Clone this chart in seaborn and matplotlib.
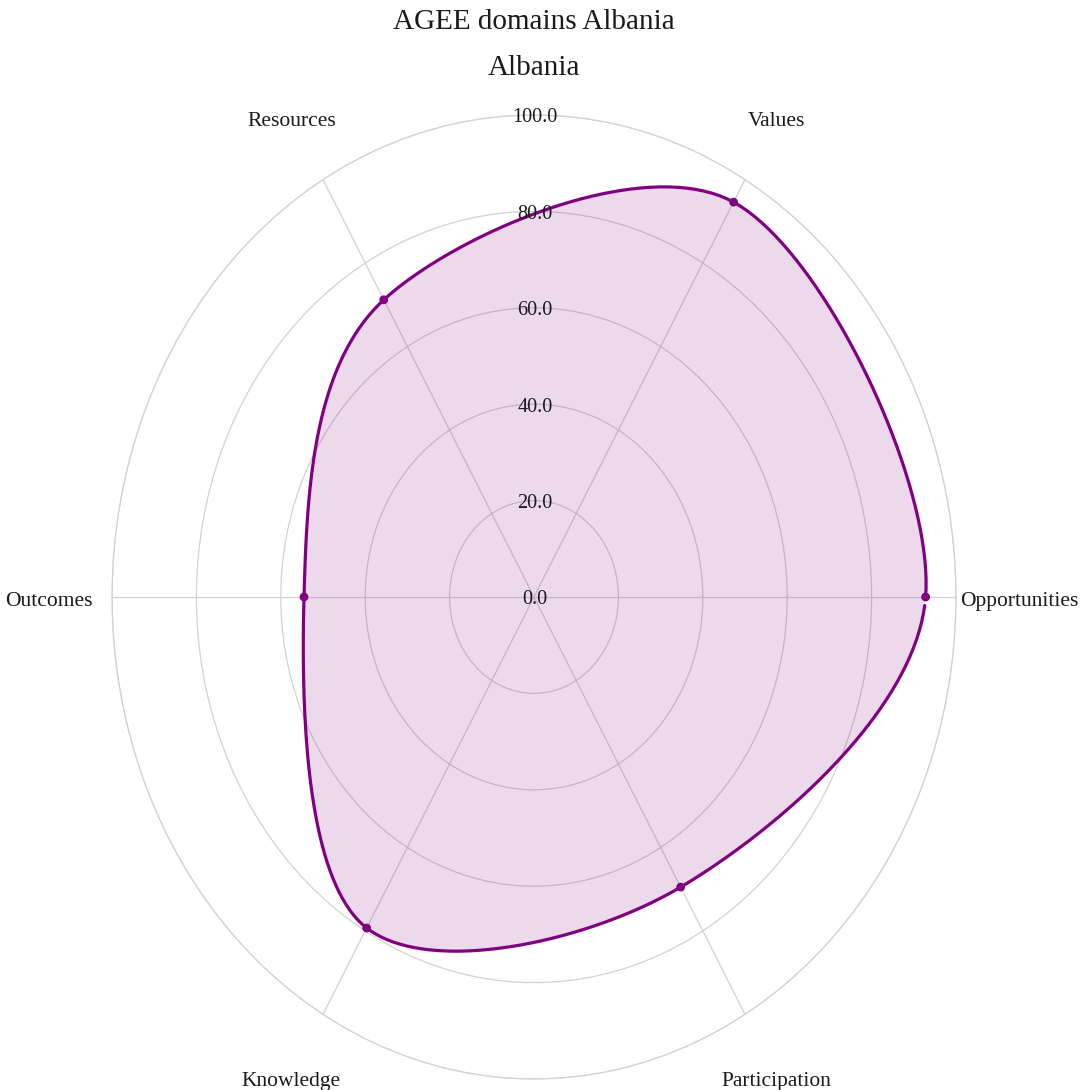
import numpy as np
import pandas as pd
import matplotlib.pyplot as plt
import matplotlib.transforms as mtransforms
import seaborn as sns

# Data
categories = ["Opportunities", "Values", "Resources", "Outcomes", "Knowledge", "Participation"]
angles_deg = [0, 60, 120, 180, 240, 300]
scores = [92.8, 94.6, 71.2, 54.5, 79.3, 69.5]
ring_values = [0, 20, 40, 60, 80, 100]

title_main = "AGEE domains Albania"
title_sub = "Albania"

sns.set_theme(style="white")
plt.rcParams["font.family"] = ["Liberation Serif", "DejaVu Serif"]

W, H = 1081, 1090
fig = plt.figure(figsize=(W / 100, H / 100), dpi=100)
# polar area is stretched into an ellipse (wider scale vertically)
ax_w, ax_h = 844, 964
ax = fig.add_axes([112 / W, 11 / H, ax_w / W, ax_h / H], projection="polar")
ax.set_aspect("auto")


def smooth_closed(theta, r, a, b, n=40):
    # closed Catmull-Rom spline, computed in screen-like space
    x = np.asarray(r) * np.cos(theta) * a
    y = np.asarray(r) * np.sin(theta) * b
    pts = np.column_stack([x, y])
    k = len(pts)
    t = np.linspace(0, 1, n, endpoint=False)[:, None]
    segs = []
    for i in range(k):
        p0, p1, p2, p3 = pts[(i - 1) % k], pts[i], pts[(i + 1) % k], pts[(i + 2) % k]
        segs.append(0.5 * (2 * p1 + (-p0 + p2) * t
                           + (2 * p0 - 5 * p1 + 4 * p2 - p3) * t ** 2
                           + (-p0 + 3 * p1 - 3 * p2 + p3) * t ** 3))
    out = np.vstack(segs + [pts[:1]])
    xs, ys = out[:, 0] / a, out[:, 1] / b
    return np.arctan2(ys, xs), np.hypot(xs, ys)


theta = np.deg2rad(angles_deg)
th_s, r_s = smooth_closed(theta, scores, ax_w, ax_h)
curve = pd.DataFrame({"theta": th_s, "r": r_s})
points = pd.DataFrame({"theta": theta, "r": scores})

purple = "#800080"
ax.fill(curve["theta"], curve["r"], color=purple, alpha=0.15, lw=0, zorder=3)
sns.lineplot(data=curve, x="theta", y="r", sort=False, ax=ax, color=purple,
             lw=2.3, zorder=4)
sns.scatterplot(data=points, x="theta", y="r", ax=ax, color=purple, s=40,
                edgecolor="none", zorder=5)

ax.set_xlabel("")
ax.set_ylabel("")
ax.set_ylim(0, 100)
ax.set_thetagrids(angles_deg, labels=[""] * len(angles_deg))
ax.set_rgrids(ring_values[1:], labels=[""] * (len(ring_values) - 1))
ax.grid(True, color="#d2d2d2", lw=0.9)
ax.spines["polar"].set_color("#d2d2d2")
ax.spines["polar"].set_linewidth(0.9)
ax.set_facecolor("white")

text_color = "#1a1a1a"
tick_tr = ax.transData + mtransforms.ScaledTranslation(0.01, -0.03, fig.dpi_scale_trans)
label_tr = ax.transData + mtransforms.ScaledTranslation(0, -0.045, fig.dpi_scale_trans)

for v in ring_values:
    ax.text(np.pi / 2, v, f"{v:.1f}", ha="center", va="center",
            fontsize=14.6, color=text_color, zorder=6, transform=tick_tr)

for ang, cat in zip(theta, categories):
    ax.text(ang, 115, cat, ha="center", va="center", fontsize=15.5,
            color=text_color, transform=label_tr)

fig.text(534 / W, 1 - 29 / H, title_main, ha="center", va="baseline",
         fontsize=21, color=text_color)
fig.text(534 / W, 1 - 75 / H, title_sub, ha="center", va="baseline",
         fontsize=21, color=text_color)

fig.savefig("out.png", dpi=100, facecolor="white")
